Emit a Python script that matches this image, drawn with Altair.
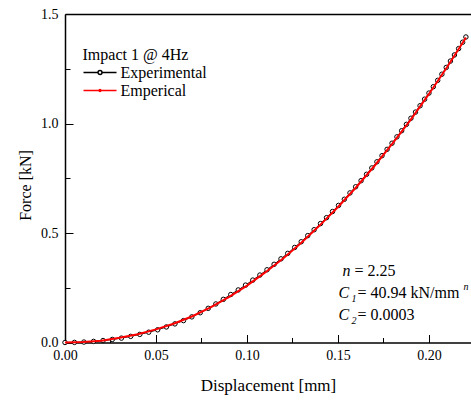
import altair as alt
import pandas as pd

# ---- data ----
disp_exp = [0, 0.0052, 0.0104, 0.0157, 0.0209, 0.0260, 0.0310, 0.0361, 0.0411, 0.0460,
            0.0509, 0.0557, 0.0604, 0.0651, 0.0697, 0.0743, 0.0787, 0.0829, 0.0870, 0.0911,
            0.0952, 0.0992, 0.1032, 0.1071, 0.1110, 0.1149, 0.1187, 0.1224, 0.1262, 0.1298,
            0.1334, 0.1369, 0.1404, 0.1437, 0.1470, 0.1503, 0.1535, 0.1566, 0.1597, 0.1627,
            0.1657, 0.1686, 0.1714, 0.1742, 0.1770, 0.1797, 0.1824, 0.1850, 0.1876, 0.1901,
            0.1926, 0.1951, 0.1976, 0.2000, 0.2024, 0.2048, 0.2071, 0.2095, 0.2118, 0.2140,
            0.2163, 0.2185, 0.2203]
force_exp = [0, 0.0005, 0.002, 0.005, 0.009, 0.014, 0.020, 0.028, 0.037, 0.047,
             0.058, 0.071, 0.085, 0.100, 0.117, 0.136, 0.156, 0.176, 0.197, 0.219,
             0.240, 0.262, 0.285, 0.308, 0.332, 0.357, 0.382, 0.407, 0.434, 0.460,
             0.488, 0.515, 0.543, 0.570, 0.598, 0.626, 0.654, 0.683, 0.711, 0.739,
             0.768, 0.797, 0.825, 0.853, 0.882, 0.910, 0.939, 0.967, 0.996, 1.024,
             1.052, 1.081, 1.111, 1.139, 1.168, 1.197, 1.225, 1.256, 1.285, 1.313,
             1.342, 1.371, 1.395]
disp_emp = [0, 0.01, 0.02, 0.03, 0.04, 0.05, 0.06, 0.07, 0.08, 0.09, 0.10, 0.11,
            0.12, 0.13, 0.14, 0.15, 0.16, 0.17, 0.18, 0.19, 0.20, 0.21, 0.22, 0.2203]
force_emp = [0, 0.002, 0.008, 0.022, 0.038, 0.060, 0.087, 0.120, 0.160, 0.207, 0.260, 0.320,
             0.385, 0.457, 0.535, 0.619, 0.709, 0.806, 0.909, 1.018, 1.135, 1.258, 1.388, 1.393]
series_names = ["Experimental", "Emperical"]
legend_title = "Impact 1 @ 4Hz"
x_major = [0, 0.05, 0.10, 0.15, 0.20]
x_minor = [0.025, 0.075, 0.125, 0.175]
y_major = [0, 0.5, 1.0, 1.5]
y_minor = [0.25, 0.75, 1.25]
x_title = "Displacement [mm]"
y_title = "Force [kN]"
# annotation pieces: (text, italic, size, x, y)
annot = [
    ("n", True, 16, 277.5, 261.5),
    ("= 2.25", False, 16, 289.5, 261.5),
    ("C", True, 16, 273.5, 284),
    ("1", True, 10, 286.5, 288),
    ("= 40.94 kN/mm", False, 16, 292.5, 284),
    ("n", True, 10, 398.5, 276),
    ("C", True, 16, 273.5, 306),
    ("2", True, 10, 286.5, 310),
    ("= 0.0003", False, 16, 292.5, 306),
]

FONT = "Liberation Serif"
exp_df = pd.DataFrame({"d": disp_exp, "F": force_exp})
emp_df = pd.DataFrame({"d": disp_emp, "F": force_emp})
leg_df = pd.DataFrame({"series": series_names})

xscale = alt.Scale(domain=[0, 0.2231], nice=False, zero=False)
yscale = alt.Scale(domain=[0, 1.5], nice=False, zero=False)

x_main = alt.Axis(orient="bottom", values=x_major, format=".2f", title=x_title, ticks=False,
                  tickSize=0, labelPadding=6, labelFlush=False, domainWidth=1.5,
                  domainColor="black", labelFont=FONT, labelFontSize=14, labelColor="black",
                  titleFont=FONT, titleFontSize=17, titleFontWeight="normal",
                  titleColor="black", titleBaseline="alphabetic", titleY=48, grid=False)
y_main = alt.Axis(orient="left", values=y_major, format=".1f", title=y_title, ticks=False,
                  tickSize=0, labelPadding=7, labelFlush=False, domainWidth=1.5,
                  domainColor="black", labelFont=FONT, labelFontSize=14, labelColor="black",
                  titleFont=FONT, titleFontSize=16, titleFontWeight="normal",
                  titleColor="black", titleBaseline="alphabetic", titleX=-35, titleY=171,
                  grid=False)
x_top = alt.Axis(orient="top", domain=True, domainWidth=1.5, domainColor="black",
                 ticks=False, labels=False, title=None, grid=False)

def tick_axis(orient, vals, size):
    return alt.Axis(orient=orient, values=vals, labels=False, domain=False, ticks=True,
                    tickSize=size, offset=-size, tickColor="black", tickWidth=1,
                    title=None, grid=False)

line_exp = alt.Chart(exp_df).mark_line(color="black", strokeWidth=1).encode(
    x=alt.X("d:Q", scale=xscale, axis=x_main),
    y=alt.Y("F:Q", scale=yscale, axis=y_main),
)
pts_exp = alt.Chart(exp_df).mark_point(shape="circle", size=20, color="black", filled=False,
                                       fill="white", fillOpacity=1, strokeWidth=1,
                                       opacity=1).encode(
    x=alt.X("d:Q", scale=xscale, axis=tick_axis("bottom", x_major, 8)),
    y=alt.Y("F:Q", scale=yscale, axis=tick_axis("left", y_major, 8)),
)
line_emp = alt.Chart(emp_df).mark_line(color="red", strokeWidth=2).encode(
    x=alt.X("d:Q", scale=xscale, axis=tick_axis("bottom", x_minor, 5)),
    y=alt.Y("F:Q", scale=yscale, axis=tick_axis("left", y_minor, 5)),
)

sym_exp = "M-1,0L0.615,0M1.055,0L2.67,0M1.055,0A0.22,0.22,0,1,1,0.615,0A0.22,0.22,0,1,1,1.055,0"
sym_emp = "M-1,0L2.67,0M0.935,0A0.1,0.1,0,1,1,0.735,0A0.1,0.1,0,1,1,0.935,0"
legend = alt.Legend(title=legend_title, orient="none", legendX=17.5, legendY=32.5,
                    symbolSize=324, symbolStrokeWidth=1.5, symbolOpacity=1,
                    labelFont=FONT, labelFontSize=16, labelColor="black", labelOffset=18,
                    titleFont=FONT, titleFontSize=16, titleFontWeight="normal",
                    titleColor="black", titlePadding=0, padding=0, rowPadding=0)
leg_layer = alt.Chart(leg_df).transform_filter("false").mark_point(filled=False).encode(
    x=alt.X("d:Q", scale=xscale, axis=x_top),
    color=alt.Color("series:N", scale=alt.Scale(domain=series_names, range=["black", "red"]),
                    legend=legend),
    shape=alt.Shape("series:N", scale=alt.Scale(domain=series_names, range=[sym_exp, sym_emp]),
                    legend=legend),
)

texts = []
for t, ital, sz, xx, yy in annot:
    texts.append(
        alt.Chart(alt.Data(values=[{"k": 1}])).mark_text(
            text=t, font=FONT, fontSize=sz, fontStyle="italic" if ital else "normal",
            align="left", baseline="alphabetic", color="black"
        ).encode(x=alt.value(xx), y=alt.value(yy))
    )

chart = alt.layer(line_exp, pts_exp, line_emp, leg_layer, *texts).resolve_axis(
    x="independent", y="independent"
).properties(
    width=406, height=328.5,
    autosize=alt.AutoSizeParams(type="none"),
    padding={"left": 65, "top": 14, "right": 0, "bottom": 58.5},
    background="white",
).configure_view(stroke="transparent")

chart.save("out.html", embed_options={"renderer": "svg", "actions": False})
